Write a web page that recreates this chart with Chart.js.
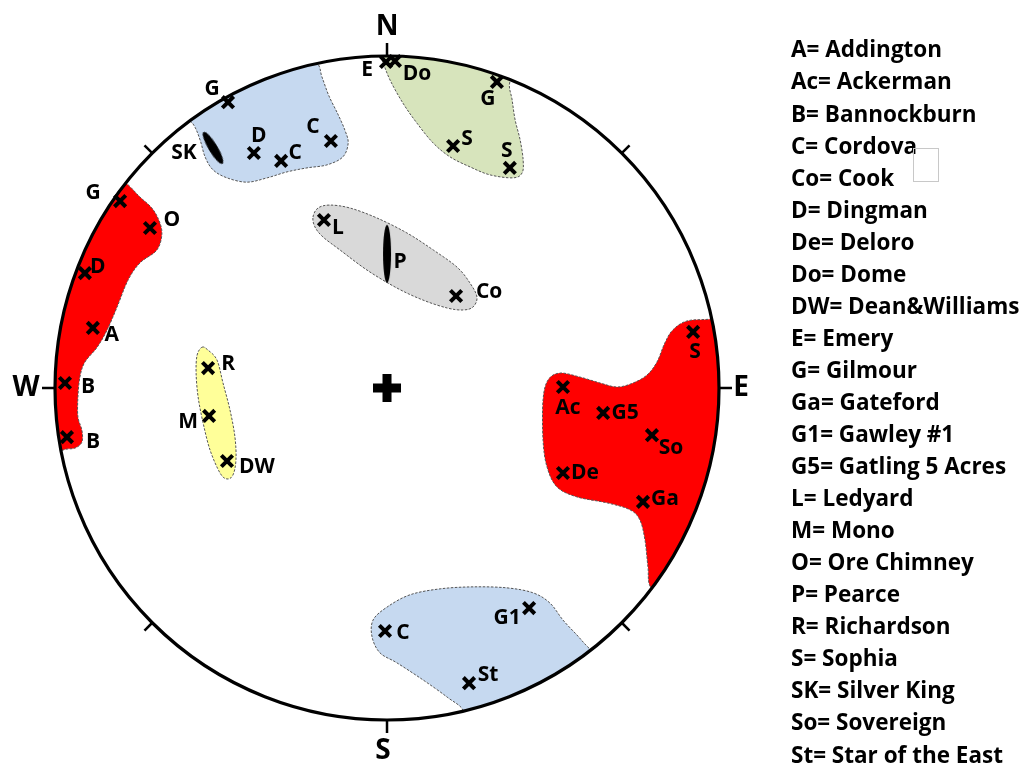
<!DOCTYPE html>
<html>
<head>
<meta charset="utf-8">
<script src="https://cdn.jsdelivr.net/npm/chart.js@4.4.0/dist/chart.umd.min.js"></script>
<style>
  html, body { margin: 0; padding: 0; background: #fff; }
  #wrap { width: 1020px; height: 766px; position: relative; }
</style>
</head>
<body>
<div id="wrap"><canvas id="stereonet" width="1020" height="766"></canvas></div>
<script>
// Sites on the net (net radius = 100)
const siteCodes = ['G', 'D', 'C', 'C', 'E', 'Do', 'G', 'S', 'S', 'G', 'O', 'D', 'A', 'B', 'B',
  'L', 'Co', 'R', 'M', 'DW', 'S', 'Ac', 'G5', 'So', 'De', 'Ga', 'C', 'G1', 'St'];
const siteX = [-47.9, -40.1, -31.9, -16.9, -0.3, 2.4, 33.1, 19.9, 37.0, -80.4, -71.4, -91.0, -88.6, -97.0, -96.4,
  -19.0, 20.8, -53.9, -53.6, -48.2, 92.2, 53.0, 65.1, 79.8, 53.0, 77.1, -0.6, 42.8, 24.7];
const siteY = [86.1, 70.8, 68.4, 74.4, 98.2, 98.5, 92.2, 72.9, 66.3, 56.3, 48.2, 34.6, 18.1, 1.5, -14.8,
  50.6, 27.7, 6.0, -8.4, -22.0, 16.9, 0.3, -7.5, -14.2, -25.6, -34.3, -73.2, -66.3, -88.9];

// Sites shown as elongated marks
const lineCodes = ['SK', 'P'];
const lineX = [-52.4, 0.0];
const lineY = [72.3, 40.4];

// Region outlines
const blueNorthWest = [[-21.4, 98.2], [-19.6, 93.7], [-17.5, 88.0], [-14.8, 82.5], [-12.7, 77.7], [-11.7, 73.8],
  [-13.3, 69.6], [-18.1, 67.2], [-24.1, 66.3], [-30.1, 65.1], [-36.1, 63.3], [-42.2, 62.0], [-48.2, 63.3],
  [-52.4, 65.7], [-54.8, 69.6], [-56.3, 74.7], [-58.4, 79.5], [-63.0, 84.9], [-48.8, 97.0], [-29.2, 101.8]];
const greenNorth = [[-1.5, 98.8], [0.9, 92.8], [4.8, 85.8], [9.0, 79.8], [13.9, 73.8], [19.0, 69.6], [25.0, 66.6],
  [31.0, 64.2], [38.0, 63.3], [40.7, 64.8], [41.0, 68.7], [40.1, 74.7], [38.6, 80.7], [37.7, 86.7], [37.0, 92.2],
  [40.7, 98.2], [19.0, 104.8], [-3.6, 104.2]];
const redWest = [[-78.9, 62.0], [-74.4, 57.5], [-71.1, 54.5], [-69.0, 51.2], [-67.8, 46.7], [-69.3, 41.6],
  [-74.4, 37.7], [-78.0, 32.5], [-81.3, 24.4], [-84.3, 17.5], [-87.3, 12.3], [-91.0, 7.8], [-92.5, 3.3],
  [-93.1, -2.7], [-93.1, -8.7], [-91.9, -12.7], [-91.9, -16.3], [-94.0, -18.1], [-97.6, -18.7],
  [-103.0, -21.7], [-106.0, 2.4], [-98.5, 41.6], [-84.9, 65.7]];
const greyCentre = [[-22.3, 51.5], [-20.8, 54.2], [-17.2, 55.1], [-11.1, 54.2], [-3.0, 51.2], [6.0, 46.7],
  [13.9, 41.6], [21.1, 36.4], [25.0, 31.6], [27.1, 27.4], [25.9, 24.4], [22.9, 23.5], [18.1, 24.1],
  [10.8, 26.5], [3.0, 30.1], [-6.0, 35.5], [-14.2, 41.6], [-19.3, 45.5], [-21.7, 48.5]];
const yellowWest = [[-55.7, 12.3], [-53.9, 11.4], [-51.2, 8.4], [-49.4, 1.5], [-47.3, -6.6], [-45.8, -14.8],
  [-45.5, -21.7], [-46.4, -26.2], [-48.2, -27.4], [-50.3, -25.6], [-53.3, -18.7], [-55.4, -10.5],
  [-56.9, -2.7], [-57.5, 4.5], [-57.2, 9.9]];
const redEast = [[97.9, 20.8], [90.4, 20.2], [86.1, 17.5], [83.7, 13.6], [81.3, 7.8], [78.3, 3.9], [74.1, 1.5],
  [69.3, 0.3], [64.2, 1.5], [58.1, 3.3], [52.1, 4.5], [48.5, 2.4], [47.0, -3.6], [47.0, -15.7], [48.2, -23.8],
  [51.2, -29.8], [57.2, -32.8], [66.3, -34.6], [73.2, -36.7], [76.2, -39.8], [77.7, -45.8], [78.6, -53.9],
  [79.5, -60.2], [85.8, -65.4], [107.8, -24.7], [107.8, 17.5], [106.3, 22.3]];
const blueSouth = [[22.9, -97.3], [18.1, -93.1], [10.8, -87.9], [3.0, -82.8], [-2.1, -79.8], [-4.5, -75.0],
  [-4.2, -69.9], [0.0, -66.0], [6.9, -62.3], [16.0, -60.5], [25.9, -59.9], [36.1, -60.2], [44.0, -61.7],
  [49.1, -64.8], [53.0, -69.9], [57.2, -74.4], [61.1, -78.6], [67.8, -84.3], [43.1, -106.6], [19.6, -102.4]];

const regionOutlines = [blueNorthWest, greenNorth, redWest, greyCentre, yellowWest, redEast, blueSouth];
const regionColours = ['#c6d9f0', '#d7e4bc', '#ff0000', '#d9d9d9', '#ffff99', '#ff0000', '#c6d9f0'];

const compassLabels = ['N', 'E', 'S', 'W'];

const legendEntries = ['A= Addington', 'Ac= Ackerman', 'B= Bannockburn', 'C= Cordova', 'Co= Cook',
  'D= Dingman', 'De= Deloro', 'Do= Dome', 'DW= Dean&Williams', 'E= Emery', 'G= Gilmour', 'Ga= Gateford',
  'G1= Gawley #1', 'G5= Gatling 5 Acres', 'L= Ledyard', 'M= Mono', 'O= Ore Chimney', 'P= Pearce',
  'R= Richardson', 'S= Sophia', 'SK= Silver King', 'So= Sovereign', 'St= Star of the East'];

// label placement next to each mark (px)
const siteLabelShift = [[-16, -13], [5, -17], [14, -8], [-18, -14], [-19, 8], [22, 13], [-9, 17], [14, -7], [-3, -17],
  [-27, -8], [22, -8], [13, -6], [19, 7], [23, 4], [26, 5], [14, 8], [33, -4], [20, -4], [-21, 6], [30, 6],
  [2, 20], [5, 21], [22, 0], [19, 13], [22, 0], [22, -3], [18, 2], [-22, 10], [19, -8]];
const lineLabelShift = [[-29, 5], [13, 8]];

const LABEL_FONT = 'bold 21px "Open Sans"';
const KEY_FONT = 'bold 22.5px "Open Sans"';

function ellipseMark(len, wid) {
  const c = document.createElement('canvas');
  c.width = wid + 2;
  c.height = len + 2;
  const g = c.getContext('2d');
  g.fillStyle = '#000';
  g.beginPath();
  g.ellipse(c.width / 2, c.height / 2, wid / 2, len / 2, 0, 0, Math.PI * 2);
  g.fill();
  return c;
}

// closed smooth curve through the points
function smoothLoop(ctx, pts) {
  const n = pts.length;
  ctx.moveTo(pts[0].x, pts[0].y);
  for (let i = 0; i < n; i++) {
    const p0 = pts[(i - 1 + n) % n], p1 = pts[i], p2 = pts[(i + 1) % n], p3 = pts[(i + 2) % n];
    ctx.bezierCurveTo(
      p1.x + (p2.x - p0.x) / 6, p1.y + (p2.y - p0.y) / 6,
      p2.x - (p3.x - p1.x) / 6, p2.y - (p3.y - p1.y) / 6,
      p2.x, p2.y);
  }
  ctx.closePath();
}

const netPlugin = {
  id: 'net',
  beforeDatasetsDraw(chart) {
    const ctx = chart.ctx;
    const xs = chart.scales.x, ys = chart.scales.y;
    const cx = xs.getPixelForValue(0), cy = ys.getPixelForValue(0);
    const r = xs.getPixelForValue(100) - cx;

    // regions, cut to the net
    ctx.save();
    ctx.beginPath();
    ctx.arc(cx, cy, r, 0, Math.PI * 2);
    ctx.clip();
    regionOutlines.forEach((outline, i) => {
      const pts = outline.map(p => ({ x: xs.getPixelForValue(p[0]), y: ys.getPixelForValue(p[1]) }));
      ctx.beginPath();
      smoothLoop(ctx, pts);
      ctx.fillStyle = regionColours[i];
      ctx.fill();
      ctx.setLineDash([2.5, 1.5]);
      ctx.lineWidth = 1;
      ctx.strokeStyle = '#555';
      ctx.stroke();
    });
    ctx.restore();

    // primitive circle and ticks
    ctx.save();
    ctx.strokeStyle = '#000';
    ctx.lineWidth = 3.2;
    ctx.beginPath();
    ctx.arc(cx, cy, r, 0, Math.PI * 2);
    ctx.stroke();
    ctx.lineWidth = 2.5;
    for (let k = 0; k < 8; k++) {
      const a = k * Math.PI / 4;
      const len = k % 2 === 0 ? 13 : 11;
      const sx = Math.sin(a), sy = -Math.cos(a);
      ctx.beginPath();
      ctx.moveTo(cx + sx * r, cy + sy * r);
      ctx.lineTo(cx + sx * (r + len), cy + sy * (r + len));
      ctx.stroke();
    }
    ctx.fillStyle = '#000';
    ctx.font = 'bold 28px "Open Sans"';
    ctx.textAlign = 'center';
    ctx.textBaseline = 'middle';
    ctx.fillText(compassLabels[0], cx, cy - r - 29);
    ctx.fillText(compassLabels[1], cx + r + 22, cy);
    ctx.fillText(compassLabels[2], cx - 4, cy + r + 31);
    ctx.fillText(compassLabels[3], cx - r - 29, cy);
    ctx.restore();
  },
  afterDatasetsDraw(chart) {
    const ctx = chart.ctx;
    const xs = chart.scales.x, ys = chart.scales.y;
    ctx.save();
    ctx.fillStyle = '#000';
    ctx.font = LABEL_FONT;
    ctx.textAlign = 'center';
    ctx.textBaseline = 'middle';
    siteCodes.forEach((code, i) => {
      ctx.fillText(code, xs.getPixelForValue(siteX[i]) + siteLabelShift[i][0],
        ys.getPixelForValue(siteY[i]) + siteLabelShift[i][1]);
    });
    lineCodes.forEach((code, i) => {
      ctx.fillText(code, xs.getPixelForValue(lineX[i]) + lineLabelShift[i][0],
        ys.getPixelForValue(lineY[i]) + lineLabelShift[i][1]);
    });

    // key
    ctx.font = KEY_FONT;
    ctx.textAlign = 'left';
    legendEntries.forEach((t, i) => {
      ctx.fillText(t, 791, 51 + i * 32.05);
    });
    ctx.strokeStyle = '#c8c8c8';
    ctx.lineWidth = 1;
    ctx.strokeRect(913.5, 148.5, 25, 33);
    ctx.restore();
  }
};

const ctx = document.getElementById('stereonet').getContext('2d');
new Chart(ctx, {
  type: 'scatter',
  data: {
    datasets: [
      {
        label: 'Sites',
        data: siteX.map((v, i) => ({ x: v, y: siteY[i] })),
        pointStyle: 'crossRot',
        pointRadius: 8,
        pointBorderWidth: 4,
        borderColor: '#000',
        backgroundColor: '#000'
      },
      {
        label: 'Linear sites',
        data: lineX.map((v, i) => ({ x: v, y: lineY[i] })),
        pointStyle: [ellipseMark(37, 9), ellipseMark(58, 8)],
        rotation: [-31, 0],
        pointRadius: 5
      },
      {
        label: 'Centre',
        data: [{ x: 0, y: 0 }],
        pointStyle: 'cross',
        pointRadius: 14,
        pointBorderWidth: 9,
        borderColor: '#000'
      }
    ]
  },
  options: {
    responsive: false,
    animation: false,
    devicePixelRatio: 1,
    layout: { padding: 0, autoPadding: false },
    scales: {
      x: { type: 'linear', display: false, min: -116.57, max: 190.66 },
      y: { type: 'linear', display: false, min: -113.86, max: 116.87 }
    },
    plugins: {
      legend: { display: false },
      tooltip: { enabled: false }
    }
  },
  plugins: [netPlugin]
});
</script>
</body>
</html>
